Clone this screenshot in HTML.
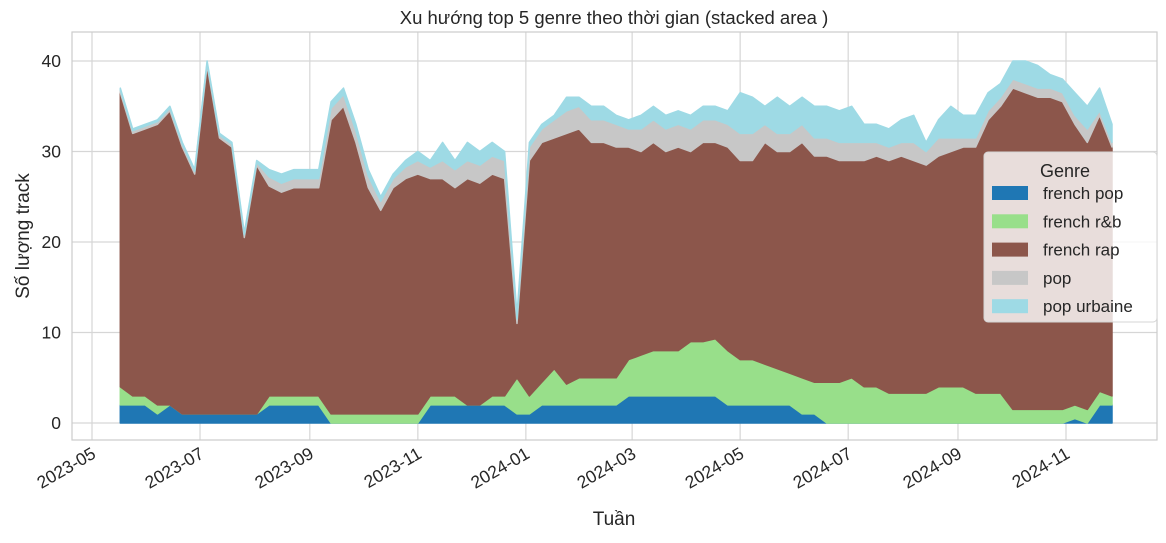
<!DOCTYPE html>
<html><head><meta charset="utf-8">
<style>
body{margin:0;background:#fff;font-family:"Liberation Sans","DejaVu Sans",sans-serif;}
svg text{font-family:"Liberation Sans","DejaVu Sans",sans-serif;fill:#262626;}
</style></head>
<body>
<svg id="chart" width="1166" height="538" viewBox="0 0 1166 538" xmlns="http://www.w3.org/2000/svg">
<rect x="0" y="0" width="1166" height="538" fill="#fff"/>
<g id="grid"></g>
<g id="areas"></g>
<rect x="72" y="32" width="1085" height="408" fill="none" stroke="#cccccc" stroke-width="1.2"/>
<g id="axes"></g>
<text x="614" y="24" font-size="18.5" text-anchor="middle">Xu hướng top 5 genre theo thời gian (stacked area )</text>
<text x="614" y="525" font-size="19" text-anchor="middle">Tuần</text>
<text x="0" y="0" font-size="19" text-anchor="middle" transform="translate(29,236) rotate(-90)">Số lượng track</text>
<g>
<rect x="984" y="152" width="173" height="170" rx="4" fill="#ffffff" fill-opacity="0.8" stroke="#d5d5d5"/>
<text x="1065" y="177" font-size="18" text-anchor="middle">Genre</text>
<g id="legend-items"></g>
</g>
</svg>
<script>
const startDate = "2023-05-17";
const weekStepDays = 7;
const genres = ["french pop","french r&b","french rap","pop","pop urbaine"];
const colors = ["#1f77b4","#98df8a","#8c564b","#c7c7c7","#9edae5"];
const frenchPop = [2,2,2,1,2,1,1,1,1,1,1,1,2,2,2,2,2,0,0,0,0,0,0,0,0,2,2,2,2,2,2,2,1,1,2,2,2,2,2,2,2,3,3,3,3,3,3,3,3,2,2,2,2,2,2,1,1,0,0,0,0,0,0,0,0,0,0,0,0,0,0,0,0,0,0,0,0,0.5,0,2,2];
const frenchRnb = [2,1,1,1,0,0,0,0,0,0,0,0,1,1,1,1,1,1,1,1,1,1,1,1,1,1,1,1,0,0,1,1,4,2,2.5,4,2.3,3,3,3,3,4,4.5,5,5,5,6,6,6.3,6,5,5,4.5,4,3.5,4,3.5,4.5,4.5,5,4,4,3.3,3.3,3.3,3.3,4,4,4,3.3,3.3,3.3,1.5,1.5,1.5,1.5,1.5,1.5,1.5,1.5,1];
const frenchRap = [32.5,29,29.5,31,32.5,29.5,26.5,38.5,30.5,29.5,19.5,27.5,23.2,22.5,23,23,23,32.5,34,30,25,22.5,25,26,26.5,24,24,23,25,24.5,24.5,24,6,26,26.5,25.5,27.7,27.5,26,26,25.5,23.5,22.5,23,22,22.5,21,22,21.7,22.5,22,22,24.5,24,24.5,26,25,25,24.5,24,25,25.5,25.7,26.2,25.7,25.2,25.5,26,26.5,27.2,30.2,31.7,35.5,35,34.5,34.5,34,31,29.5,30.5,27.5];
const popVals = [0.3,0.3,0.3,0.3,0.3,0.3,0.3,0.3,0.3,0.3,0.3,0.3,1,1,1,1,1,1.3,1.3,1.3,1.3,1,1,1.3,1.5,1.3,2,2,2,2,2,2,0.5,1.5,1.5,2,2.5,2.5,2.5,2.5,2.5,2,2.5,2.5,2.5,2.5,2.5,2.5,2.5,2.5,3,3,2,2,2,2,2,2,2,2,2,1.5,1.5,1.5,2,1.5,2,1.5,1,1,1,1,1,1,1,1,1,1,1.5,0.5,0.5];
const popUrbaine = [0.2,0.2,0.2,0.2,0.2,0.2,0.2,0.2,0.2,0.2,0.2,0.2,0.8,1,1,1,1,0.7,0.7,0.7,0.7,0.5,0.5,0.7,1,0.7,2,1,2,1.5,1.5,1,0.5,0.5,0.5,0.5,1.5,1,1.5,1.5,1,1,1.5,1.5,1.5,1.5,1.5,1.5,1.5,1.5,4.5,4,2,4,3,3,3.5,3.5,3.5,4,2,2,2,2.5,3,1,2,3.5,2.5,2.5,2,1.5,2,2.5,2.5,1.5,1.5,2.5,2.5,2.5,2];
const yTicks = [0,10,20,30,40];
const xTickLabels = ["2023-05","2023-07","2023-09","2023-11","2024-01","2024-03","2024-05","2024-07","2024-09","2024-11"];

const NS="http://www.w3.org/2000/svg";
const ref0=Date.UTC(2023,4,1), x0=92, pxPerDay=974/550;
function xDate(ms){return x0+(ms-ref0)/86400000*pxPerDay;}
function yScale(v){return 423-v*9.05;}
function mk(tag,attrs,parent){const e=document.createElementNS(NS,tag);for(const k in attrs)e.setAttribute(k,attrs[k]);parent.appendChild(e);return e;}
const grid=document.getElementById('grid'),axes=document.getElementById('axes'),areas=document.getElementById('areas');
yTicks.forEach(t=>{
  const y=yScale(t);
  const l=mk('line',{x1:72,x2:1157,y1:y,y2:y,stroke:'#d6d6d6','stroke-width':1.2},grid);
  
  
  const tx=mk('text',{x:61,y:y+6,'font-size':17.5,'text-anchor':'end'},axes);
  tx.textContent=t;
  
  
});
xTickLabels.forEach(s=>{
  const [yy,mm]=s.split('-').map(Number);
  const x=xDate(Date.UTC(yy,mm-1,1));
  const l=mk('line',{x1:x,x2:x,y1:32,y2:440,stroke:'#d6d6d6','stroke-width':1.2},grid);
  
  
  const tx=mk('text',{x:0,y:0,'font-size':17.5,'text-anchor':'end',transform:`translate(${x+5},${457}) rotate(-30)`},axes);
  tx.textContent=s;
  
  
});
const series=[frenchPop,frenchRnb,frenchRap,popVals,popUrbaine];
const [sy,sm,sd]=startDate.split('-').map(Number);
const start=Date.UTC(sy,sm-1,sd);
const n=frenchPop.length;
const xs=[];for(let i=0;i<n;i++)xs.push(xDate(start+i*weekStepDays*86400000));
let base=new Array(n).fill(0);
series.forEach((vals,si)=>{
  const top=base.map((b,i)=>b+vals[i]);
  let d='M'+xs.map((x,i)=>x.toFixed(1)+','+yScale(top[i]).toFixed(1)).join('L');
  for(let i=n-1;i>=0;i--)d+='L'+xs[i].toFixed(1)+','+yScale(base[i]).toFixed(1);
  d+='Z';
  const p=mk('path',{d:d,fill:colors[si],stroke:colors[si],'stroke-width':1.5,'stroke-linejoin':'round'},areas);
  
  
  base=top;
});
const li=document.getElementById('legend-items');
genres.forEach((g,i)=>{
  const y=193+i*28.3;
  const r=mk('rect',{x:992,y:y-7,width:36,height:14,fill:colors[i]},li);
  
  
  const t=mk('text',{x:1043,y:y+6,'font-size':17},li);
  t.textContent=g;
  
  
});
</script>
</body></html>
